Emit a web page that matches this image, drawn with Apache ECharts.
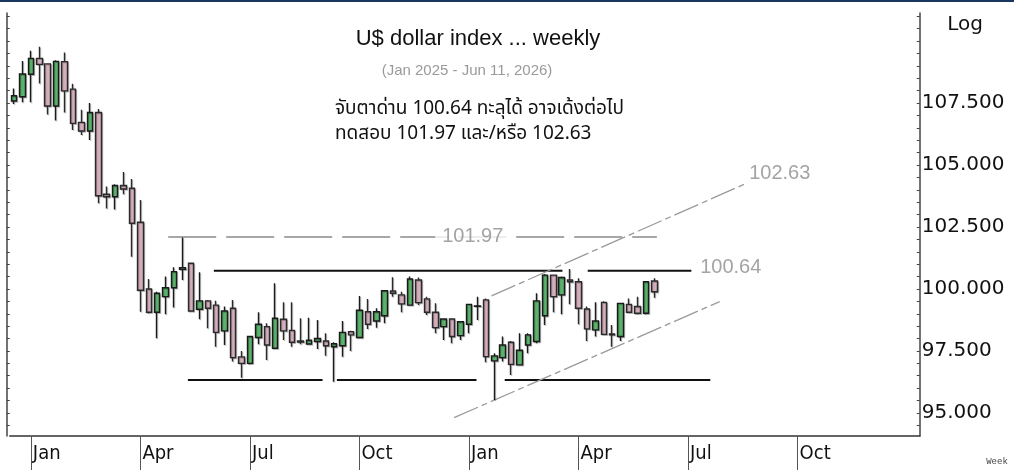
<!DOCTYPE html>
<html>
<head>
<meta charset="utf-8">
<script src="https://cdn.jsdelivr.net/npm/echarts@6/dist/echarts.min.js"></script>
<style>html,body{margin:0;padding:0;background:#fff}#c{width:1014px;height:473px}</style>
</head>
<body>
<div id="c"></div>
<script>
// ---- data (weekly candles, oldest first) ----
const openP  = [107.58,107.75,108.66,109.30,109.08,107.38,109.17,108.06,106.72,106.37,107.12,103.82,103.72,104.17,104.06,102.69,100.00,99.06,99.69,100.05,100.79,101.04,99.18,99.52,99.35,98.31,99.22,97.26,97.00,98.04,98.48,97.61,98.78,98.33,97.90,97.78,97.88,97.90,97.67,97.71,98.28,98.04,99.08,98.71,98.92,99.92,99.76,99.35,100.36,99.60,99.06,98.48,98.79,98.12,98.58,99.30,99.56,97.10,97.23,97.85,96.94,97.74,97.88,98.92,100.56,99.76,100.36,100.29,99.19,98.35,99.46,98.19,98.08,99.38,99.29,99.02,100.32];
const closeP = [107.79,108.67,109.30,109.06,107.38,109.18,107.99,106.68,106.37,107.12,103.76,103.72,104.17,104.03,102.65,99.95,99.06,99.83,100.05,100.70,100.86,99.11,99.52,99.22,98.25,99.11,97.23,97.00,98.08,98.58,97.74,98.82,98.31,97.85,97.86,97.93,98.00,97.71,97.79,98.25,98.15,99.14,98.58,99.08,99.93,99.83,99.40,100.40,99.45,99.06,98.44,98.79,98.08,98.68,99.38,99.32,97.27,97.30,97.74,96.96,97.53,98.15,99.52,100.56,99.69,100.46,100.29,99.22,98.39,98.71,98.17,98.15,99.42,99.06,99.02,100.29,99.89];
const lowP   = [107.46,107.53,107.53,108.29,107.04,106.79,107.12,106.41,106.21,106.01,103.46,103.25,103.20,103.82,101.30,99.08,99.02,98.01,98.98,99.25,100.36,99.08,98.78,98.42,97.67,97.74,97.07,96.42,96.96,97.77,97.14,97.58,97.94,97.67,97.77,97.77,97.58,97.31,96.26,97.27,97.50,98.04,98.39,98.44,98.62,99.69,99.06,99.35,99.35,98.95,98.21,97.94,97.81,97.94,98.21,98.75,97.04,95.52,97.07,96.53,96.94,97.41,97.81,98.55,99.06,98.98,99.38,98.58,97.90,98.08,98.15,97.67,97.90,99.06,98.98,98.98,99.65];
const highP  = [108.09,109.19,109.61,109.77,109.10,109.22,109.54,108.28,107.23,107.50,107.26,104.13,104.22,104.72,104.44,103.59,100.40,99.89,100.50,100.88,102.08,101.06,100.67,99.56,99.52,99.29,99.56,97.50,98.10,99.06,98.62,100.23,99.46,99.46,98.82,98.84,98.75,98.21,97.85,98.71,98.31,99.72,99.60,99.22,99.96,100.47,99.89,100.50,100.46,99.69,99.42,98.82,98.82,98.70,99.40,99.69,99.62,97.41,98.08,97.90,98.21,98.21,99.83,100.60,100.58,100.50,100.81,100.43,99.29,99.46,99.50,98.55,99.44,99.62,99.69,100.32,100.43];

// axis tick labels
const monthNames = {0:'Jan', 3:'Apr', 6:'Jul', 9:'Oct'};
const yLabelValues = [95, 97.5, 100, 102.5, 105, 107.5];
const firstWeek = Date.UTC(2024, 11, 20);
const weekCount = 108;
const lastLabelledWeek = 100;

// annotation levels (index along weeks, price)
const resistSegs = [[[23.72,100.73],[65.09,100.73]], [[68.09,100.73],[80.39,100.73]]];
const supportSegs = [[[20.64,96.33],[36.62,96.33]], [[38.32,96.33],[54.89,96.33]], [[58.24,96.33],[82.64,96.33]]];
const dashedLevel = [[18.3,102.1],[76.3,102.1]];
const chanUpper = [[56.67,99.72],[86.92,104.26]];
const chanLower = [[52.23,94.81],[83.75,99.49]];
const levelLabels = [[54.45,102.1,'101.97','c'],[81.38,100.85,'100.64','l'],[87.19,104.64,'102.63','l']];

// ---- build ----
const categories = [];
const monthOf = [];
for (let i = 0; i < weekCount; i++) {
  const d = new Date(firstWeek + i * 7 * 86400000);
  categories.push(d.toISOString().slice(0, 10));
  monthOf.push(d.getUTCMonth());
}
const qSet = new Set();
for (let i = 1; i <= lastLabelledWeek; i++) {
  if (monthOf[i] !== monthOf[i - 1] && monthOf[i] % 3 === 0) qSet.add(i);
}
const candles = openP.map((o, i) => [o, closeP[i], lowP[i], highP[i]]);
const minorTicks = [];
for (let v = 94.5; v <= 111; v += 0.5) minorTicks.push(v);

const FONT = '"DejaVu Sans", sans-serif';
const GRID = {left: 9.78, top: 13, width: 910, height: 423};

function seg(data, color, width, type, z) {
  return {type: 'line', xAxisIndex: 1, yAxisIndex: 0, data: data, symbol: 'none', silent: true,
    animation: false, z: z || 3, lineStyle: {color: color, width: width, type: type}};
}

const series = [{
  type: 'candlestick', data: candles, barWidth: 6, animation: false, z: 4,
  itemStyle: {color: '#5AB26B', color0: '#D4AEBD', borderColor: '#1a1a1a', borderColor0: '#2a2a2a',
    borderWidth: 1.4, shadowColor: 'rgba(0,0,0,0.25)', shadowOffsetX: 1, shadowOffsetY: 1, shadowBlur: 0}
}];
resistSegs.forEach(s => series.push(seg(s, '#111', 2, 'solid')));
supportSegs.forEach(s => series.push(seg(s, '#111', 2, 'solid')));
series.push(seg(dashedLevel, '#8a8a8a', 1.5, [48, 10]));
series.push(seg(chanUpper, '#9a9a9a', 1.3, [26, 4, 6, 4]));
series.push(seg(chanLower, '#9a9a9a', 1.3, [26, 4, 6, 4]));
series.push({
  type: 'scatter', xAxisIndex: 1, yAxisIndex: 0, symbolSize: 1, silent: true, animation: false, z: 6,
  itemStyle: {color: 'rgba(0,0,0,0)'},
  data: levelLabels.map(l => ({value: [l[0], l[1]], name: l[2],
    label: {show: true, formatter: l[2], position: l[3] === 'c' ? 'inside' : 'right', distance: 0,
      color: '#8c8c8c', fontSize: 20, fontFamily: '"Liberation Sans", Arial, sans-serif',
      backgroundColor: l[3] === 'c' ? '#fff' : 'transparent', padding: l[3] === 'c' ? [0, 7] : 0}}))
});

const yCommon = {type: 'value', min: 94.07, max: 111.13, scale: true, splitLine: {show: false},
  axisLine: {show: true, onZero: false, lineStyle: {color: '#444', width: 1.5}}};

const option = {
  animation: false,
  grid: GRID,
  xAxis: [{
    type: 'category', data: categories, boundaryGap: true,
    axisLine: {onZero: false, lineStyle: {color: '#333', width: 1.5}},
    axisTick: {show: true, alignWithLabel: true, interval: (i) => qSet.has(i), length: 34, lineStyle: {color: '#555', width: 1}},
    axisLabel: {interval: (i) => qSet.has(i), formatter: (v) => monthNames[new Date(v + 'T00:00:00Z').getUTCMonth()],
      align: 'left', padding: [0, 0, 0, 2], margin: 8, fontSize: 20, color: '#111', fontFamily: '"DejaVu Sans Condensed", sans-serif'},
    splitLine: {show: false}
  }, {
    type: 'value', min: -0.5, max: weekCount - 0.5, show: false, axisLine: {onZero: false}
  }],
  yAxis: [Object.assign({}, yCommon, {
    position: 'right',
    axisTick: {show: true, inside: true, length: 3, customValues: minorTicks, lineStyle: {color: '#444'}},
    axisLabel: {customValues: yLabelValues, formatter: (v) => v.toFixed(3), margin: 2, fontSize: 20, color: '#111', fontFamily: FONT}
  }), Object.assign({}, yCommon, {
    position: 'left', offset: 3,
    axisTick: {show: true, inside: true, length: 3, customValues: minorTicks, lineStyle: {color: '#444'}},
    axisLabel: {show: false}
  })],
  series: series,
  graphic: [
    {type: 'rect', shape: {x: 0, y: 0, width: 1014, height: 2}, style: {fill: '#17375f'}},
    {type: 'text', x: 478, y: 39, style: {text: 'U$ dollar index ... weekly', font: '22px "Liberation Sans", Arial, sans-serif', fill: '#111', textAlign: 'center', textVerticalAlign: 'middle'}},
    {type: 'text', x: 467, y: 71, style: {text: '(Jan 2025 - Jun 11, 2026)', font: '15px "Liberation Sans", Arial, sans-serif', fill: '#9a9a9a', textAlign: 'center', textVerticalAlign: 'middle'}},
    {type: 'text', x: 335, y: 110, style: {text: 'จับตาด่าน 100.64 ทะลุได้ อาจเด้งต่อไป', font: '19px "Noto Sans Thai", "Liberation Sans", "DejaVu Sans", sans-serif', fill: '#111', textAlign: 'left', textVerticalAlign: 'middle'}},
    {type: 'text', x: 335, y: 135, style: {text: 'ทดสอบ 101.97 และ/หรือ 102.63', font: '19px "Noto Sans Thai", "Liberation Sans", "DejaVu Sans", sans-serif', fill: '#111', textAlign: 'left', textVerticalAlign: 'middle'}},
    {type: 'text', x: 965, y: 25, style: {text: 'Log', font: '20px ' + FONT, fill: '#111', textAlign: 'center', textVerticalAlign: 'middle'}},
    {type: 'text', x: 997, y: 462, style: {text: 'Week', font: '9px "Liberation Mono", monospace', fill: '#444', textAlign: 'center', textVerticalAlign: 'middle'}}
  ]
};
const chart = echarts.init(document.getElementById('c'), null, {renderer: 'canvas'});
chart.setOption(option);
</script>
</body>
</html>
